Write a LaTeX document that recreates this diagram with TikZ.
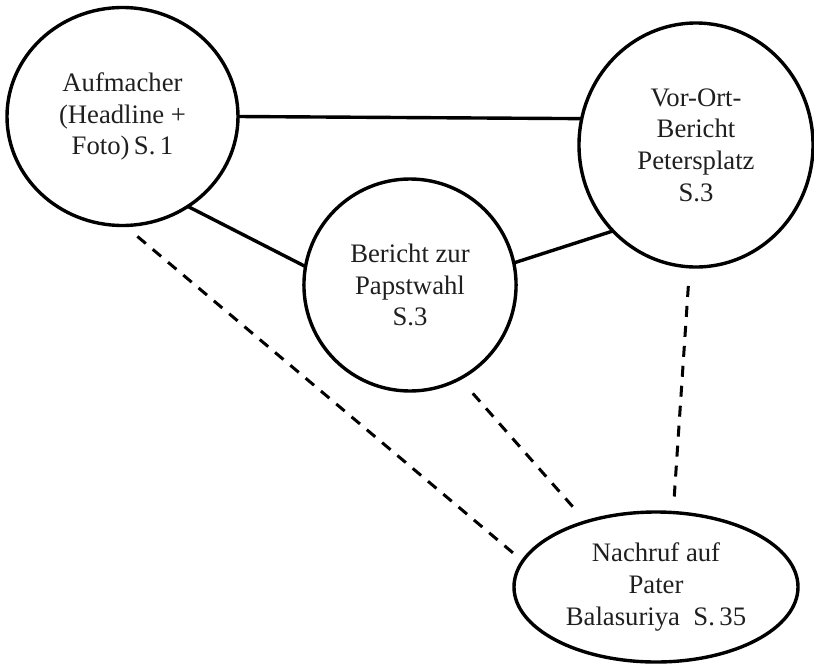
\documentclass[tikz,border=0pt]{standalone}
\usepackage{fontspec}
\setmainfont{Liberation Serif}
\usetikzlibrary{shapes.geometric}
\begin{document}
\begin{tikzpicture}[x=1pt,y=-1pt,
  bubble/.style={ellipse,draw=black,line width=3.4pt,inner sep=0pt,outer sep=0pt,
    align=center,text=black!88,font=\fontsize{26.7}{31.7}\selectfont},
  solidlink/.style={draw=black,line width=3.4pt},
  dashlink/.style={draw=black,line width=3pt,dash pattern=on 11pt off 9pt}]
\useasboundingbox (0,0) rectangle (814,664);
\node[bubble,minimum width=231pt,minimum height=218pt] (a) at (122.5,116.5)
  {Aufmacher\\(Headline +\\Foto)\,S.\,1};
\node[bubble,minimum width=234pt,minimum height=244pt] (b) at (696,145)
  {Vor-Ort-\\Bericht\\Petersplatz\\S.3};
\node[bubble,minimum width=211pt,minimum height=212pt] (c) at (410,285)
  {\raisebox{-7pt}{\parbox{150pt}{\centering Bericht zur\\Papstwahl\\S.3}}};
\node[bubble,minimum width=284pt,minimum height=150pt] (d) at (656,587)
  {Nachruf auf\\Pater\\Balasuriya\ \ S.\,35};
\draw[solidlink] (a.east) -- (b.167);
\draw[solidlink] (a.-54) -- (c.170);
\draw[solidlink] (c.12.6) -- (b.226);
\draw[dashlink,shorten <=17pt,shorten >=12pt] (a.-89) -- (d.169);
\draw[dashlink,shorten <=19.7pt,shorten >=18.4pt] (c.-62.7) -- (d.137);
\draw[dashlink,shorten <=19.2pt,shorten >=13.6pt] (b.267.1) -- (d.77.5);
\end{tikzpicture}
\end{document}
